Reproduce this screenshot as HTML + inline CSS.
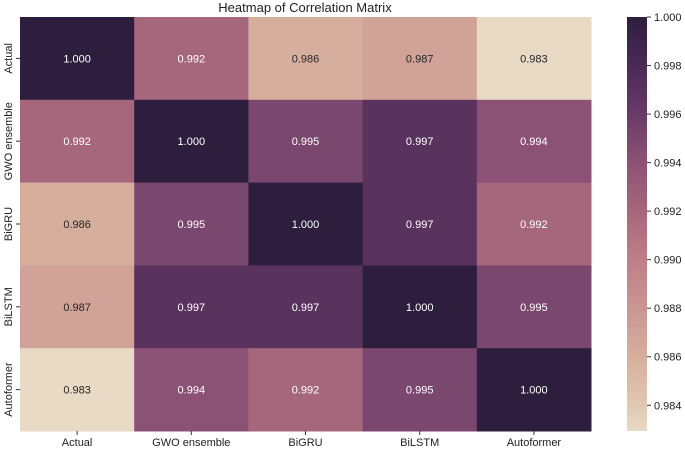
<!DOCTYPE html>
<html><head><meta charset="utf-8"><style>
body{margin:0;background:#fff;}
svg text{font-family:"Liberation Sans","DejaVu Sans",sans-serif;}
</style></head><body>
<svg id="chart" width="685" height="448" viewBox="0 0 685 448" xmlns="http://www.w3.org/2000/svg">
<defs>
<linearGradient id="cbgrad" x1="0" y1="1" x2="0" y2="0"></linearGradient>
</defs>
<text x="305" y="12" text-anchor="middle" font-size="13" fill="#222">Heatmap of Correlation Matrix</text>
<g id="cells"></g>
<g id="cbar"></g>
</svg>
<script>
const labels = ["Actual","GWO ensemble","BiGRU","BiLSTM","Autoformer"];
const row0 = [1.000,0.992,0.986,0.987,0.983];
const row1 = [0.992,1.000,0.995,0.997,0.994];
const row2 = [0.986,0.995,1.000,0.997,0.992];
const row3 = [0.987,0.997,0.997,1.000,0.995];
const row4 = [0.983,0.994,0.992,0.995,1.000];
const matrix = [row0,row1,row2,row3,row4];
const cbTicks = [1.000,0.998,0.996,0.994,0.992,0.990,0.988,0.986,0.984];
const vmin = 0.98294, vmax = 1.000;

const NS="http://www.w3.org/2000/svg";
const svg=document.getElementById('chart');
const X0=20,X1=591,Y0=17,Y1=431;
const cw=(X1-X0)/labels.length, ch=(Y1-Y0)/labels.length;
const stops=[[0,"#e8dbc5"],[0.06,"#e0c9b3"],[0.18,"#d6ae9d"],[0.3,"#c99592"],[0.42,"#bc7f86"],[0.53,"#a6677d"],[0.65,"#8c5275"],[0.77,"#673a67"],[0.88,"#4a2a55"],[1,"#2d1e3e"]];
function hex(h){return [1,3,5].map(i=>parseInt(h.substr(i,2),16));}
function cmap(v){
  let t=Math.max(0,Math.min(1,(v-vmin)/(vmax-vmin)));
  for(let i=1;i<stops.length;i++){
    if(t<=stops[i][0]){
      const a=stops[i-1],b=stops[i];const f=(t-a[0])/(b[0]-a[0]);
      const ca=hex(a[1]),cb=hex(b[1]);
      return "rgb("+ca.map((c,k)=>Math.round(c+(cb[k]-c)*f)).join(",")+")";
    }
  }
  return stops[stops.length-1][1];
}
function xs(i){return X0+i*cw;}
function ys(j){return Y0+j*ch;}
function vy(v){return Y0+(vmax-v)/(vmax-vmin)*(Y1-Y0);}
function mk(tag,attrs,parent){const e=document.createElementNS(NS,tag);for(const k in attrs)e.setAttribute(k,attrs[k]);(parent||svg).appendChild(e);return e;}
const cells=document.getElementById('cells');
matrix.forEach((row,j)=>row.forEach((v,i)=>{
  const r=mk('rect',{x:xs(i),y:ys(j),width:cw+0.5,height:ch+0.5,fill:cmap(v)},cells);
  
  
  const t=mk('text',{x:xs(i)+cw/2,y:ys(j)+ch/2+4,'text-anchor':'middle','font-size':'11',fill:(v-vmin)/(vmax-vmin)>0.5?'#fff':'#262626'},cells);
  t.textContent=v.toFixed(3);
  
  
}));
labels.forEach((l,i)=>{
  mk('line',{x1:xs(i)+cw/2,x2:xs(i)+cw/2,y1:Y1,y2:Y1+4,stroke:'#333'});
  const t=mk('text',{x:xs(i)+cw/2,y:Y1+15,'text-anchor':'middle','font-size':'11',fill:'#222'});
  t.textContent=l;
  
  
  const cy=ys(i)+ch/2;
  mk('line',{x1:X0-4,x2:X0,y1:cy,y2:cy,stroke:'#333'});
  const t2=mk('text',{x:0,y:0,'text-anchor':'middle','font-size':'11',fill:'#222',transform:'translate(12,'+cy+') rotate(-90)'});
  t2.textContent=l;
  
  
});
// colorbar
const grad=document.getElementById('cbgrad');
stops.forEach(s=>mk('stop',{offset:s[0],'stop-color':s[1]},grad));
const cb=document.getElementById('cbar');
const bar=mk('rect',{x:627,y:Y0,width:20,height:Y1-Y0,fill:'url(#cbgrad)'},cb);


cbTicks.forEach(v=>{
  const y=vy(v);
  mk('line',{x1:647,x2:651,y1:y,y2:y,stroke:'#333'},cb);
  const t=mk('text',{x:654,y:y+4,'font-size':'11',fill:'#222'},cb);
  t.textContent=v.toFixed(3);
  
  
});
</script>
</body></html>
